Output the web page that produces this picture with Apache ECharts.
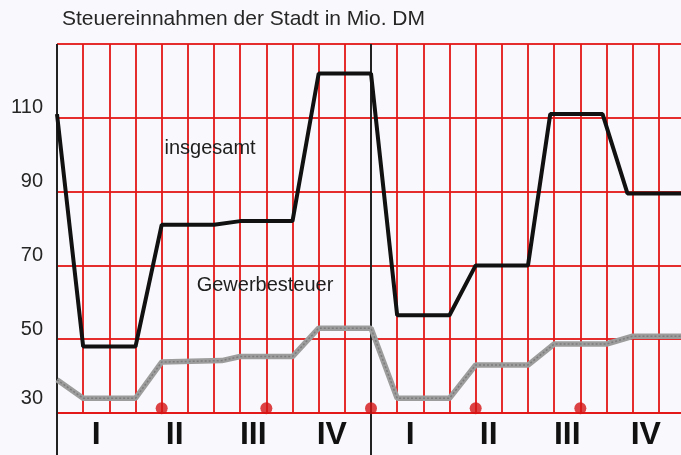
<!DOCTYPE html>
<html>
<head>
<meta charset="utf-8">
<script src="https://cdn.jsdelivr.net/npm/echarts@6/dist/echarts.min.js"></script>
<style>
  html, body { margin: 0; padding: 0; background: #f9f8fc; }
  #main { width: 681px; height: 455px; }
</style>
</head>
<body>
<div id="main"></div>
<script>
const chart = echarts.init(document.getElementById("main"));

// ********
// * Data *
// ********

// Months from start of the first year (two years, 24 months)
const totalMonths = [0, 1, 3, 4, 6, 7, 9, 10, 12, 13, 15, 16, 18, 18.85, 20.85, 21.8, 24];
const totalValues = [111, 48, 48, 81, 81, 82, 82, 122, 122, 56.5, 56.5, 70, 70, 111, 111, 89.5, 89.5];

const tradeMonths = [0, 1, 3, 4, 6.3, 7, 9, 10, 12, 13, 15, 16, 18, 19, 21, 22, 24];
const tradeValues = [39, 34, 34, 43.8, 44.2, 45.3, 45.3, 53, 53, 34, 34, 43, 43, 48.7, 48.7, 50.8, 50.8];

// Red markers on the bottom line
const markerMonths = [4, 8, 12, 16, 20];
const markerLevel = 31.3;

// Quarter labels
const quarterLabels = ["I", "II", "III", "IV", "I", "II", "III", "IV"];

// Year dividers (left axis and mid divider)
const dividerMonths = [0, 12];

const redLine = "rgba(226, 22, 22, 0.9)";

function pairs(xs, ys) {
  return xs.map((x, i) => [x, ys[i]]);
}

const dividerSeries = dividerMonths.map((m) => ({
  type: "line",
  data: [[m, 18], [m, 130]],
  symbol: "none",
  clip: false,
  silent: true,
  lineStyle: { color: "#222", width: 2 },
  z: 3,
}));

const option = {
  backgroundColor: "#f9f8fc",
  animation: false,
  title: {
    text: "Steuereinnahmen der Stadt in Mio. DM",
    left: 62,
    top: 9,
    padding: 0,
    textStyle: {
      fontFamily: "Liberation Sans",
      fontSize: 21,
      fontWeight: "normal",
      color: "#262626",
    },
  },
  grid: {
    left: 57,
    top: 44,
    width: 628,
    height: 369,
    outerBoundsMode: "none",
  },
  xAxis: [
    {
      type: "value",
      min: 0,
      max: 24,
      interval: 1,
      axisLine: { show: true, lineStyle: { color: redLine, width: 2 } },
      axisTick: { show: false },
      axisLabel: { show: false },
      splitLine: { show: true, lineStyle: { color: redLine, width: 2 } },
    },
    {
      type: "category",
      data: quarterLabels,
      position: "bottom",
      boundaryGap: true,
      axisLine: { show: false },
      axisTick: { show: false },
      splitLine: { show: false },
      axisLabel: {
        margin: 6,
        fontFamily: "Liberation Sans",
        fontSize: 32,
        fontWeight: "bold",
        color: "#111",
      },
    },
  ],
  yAxis: {
    type: "value",
    min: 30,
    max: 130,
    interval: 20,
    axisLine: { show: false },
    axisTick: { show: false },
    splitLine: { show: true, lineStyle: { color: redLine, width: 2 } },
    axisLabel: {
      margin: 14,
      fontFamily: "Liberation Sans",
      fontSize: 20,
      color: "#262626",
      formatter: (v) => {
        if (v === 130) return "";
        if (v === 30) return "{low|30}";
        return "{n|" + v + "}";
      },
      rich: {
        n: { fontSize: 20, color: "#262626", padding: [0, 0, 20, 0] },
        low: { fontSize: 20, color: "#262626", padding: [0, 0, 30, 0] },
      },
    },
  },
  series: [
    ...dividerSeries,
    {
      name: "Gewerbesteuer",
      type: "line",
      data: pairs(tradeMonths, tradeValues),
      symbol: "none",
      lineStyle: { color: "#9d9d9d", width: 5.5 },
      z: 4,
      markPoint: {
        symbolSize: 0,
        silent: true,
        label: {
          show: true,
          position: "inside",
          formatter: "Gewerbesteuer",
          fontFamily: "Liberation Sans",
          fontSize: 20,
          color: "#1e1e1e",
        },
        data: [{ coord: [7.95, 64.6] }],
      },
    },
    {
      // texture on top of the grey line
      type: "line",
      data: pairs(tradeMonths, tradeValues),
      symbol: "none",
      silent: true,
      lineStyle: { color: "#7c7c7c", width: 1.5, type: [2, 2] },
      z: 4,
    },
    {
      name: "insgesamt",
      type: "line",
      data: pairs(totalMonths, totalValues),
      symbol: "none",
      lineStyle: { color: "#111", width: 4 },
      z: 5,
      markPoint: {
        symbolSize: 0,
        silent: true,
        label: {
          show: true,
          position: "inside",
          formatter: "insgesamt",
          fontFamily: "Liberation Sans",
          fontSize: 20,
          color: "#1e1e1e",
        },
        data: [{ coord: [5.85, 101.6] }],
      },
    },
    {
      type: "scatter",
      data: markerMonths.map((m) => [m, markerLevel]),
      symbol: "circle",
      symbolSize: 12,
      itemStyle: { color: "#d41414" },
      clip: false,
      z: 6,
    },
  ],
};

chart.setOption(option);
</script>
</body>
</html>
